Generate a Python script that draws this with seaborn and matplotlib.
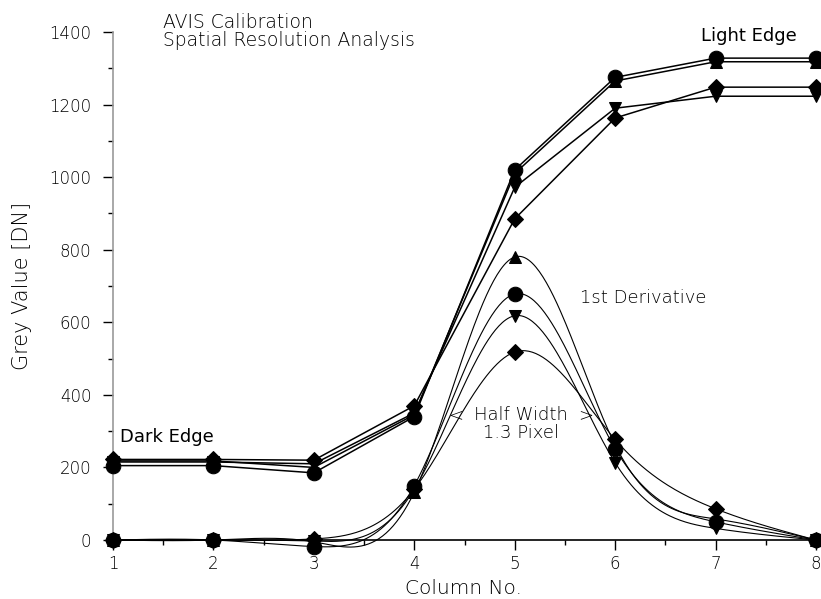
import numpy as np
import pandas as pd
import matplotlib
matplotlib.use("Agg")
import matplotlib.pyplot as plt
import seaborn as sns
from matplotlib.ticker import MultipleLocator

# ---- data ----
columns = [1, 2, 3, 4, 5, 6, 7, 8]
markers = ["o", "^", "v", "D"]

edge_circle = [205, 205, 185, 340, 1020, 1275, 1328, 1328]
edge_tri_up = [218, 218, 200, 345, 1010, 1265, 1318, 1318]
edge_tri_down = [215, 215, 210, 350, 972, 1190, 1223, 1223]
edge_diamond = [222, 222, 220, 370, 885, 1163, 1248, 1248]

deriv_circle = [0, 0, -18, 150, 678, 252, 50, 0]
deriv_tri_up = [0, 0, -5, 132, 780, 262, 58, 0]
deriv_tri_down = [0, 0, -3, 140, 618, 213, 32, 0]
deriv_diamond = [0, 0, 3, 140, 518, 277, 86, 0]

edges = [edge_circle, edge_tri_up, edge_tri_down, edge_diamond]
derivs = [deriv_circle, deriv_tri_up, deriv_tri_down, deriv_diamond]

y_ticks = [0, 200, 400, 600, 800, 1000, 1200, 1400]


def natural_spline(x, y, xs):
    x = np.asarray(x, float)
    y = np.asarray(y, float)
    n = len(x)
    h = np.diff(x)
    A = np.zeros((n, n))
    b = np.zeros(n)
    A[0, 0] = 1
    A[-1, -1] = 1
    for i in range(1, n - 1):
        A[i, i - 1] = h[i - 1]
        A[i, i] = 2 * (h[i - 1] + h[i])
        A[i, i + 1] = h[i]
        b[i] = 6 * ((y[i + 1] - y[i]) / h[i] - (y[i] - y[i - 1]) / h[i - 1])
    M = np.linalg.solve(A, b)
    out = np.empty_like(xs)
    for k, t in enumerate(xs):
        i = min(np.searchsorted(x, t, side="right") - 1, n - 2)
        i = max(i, 0)
        a = x[i + 1] - t
        c = t - x[i]
        out[k] = (M[i] * a ** 3 / (6 * h[i]) + M[i + 1] * c ** 3 / (6 * h[i])
                  + (y[i] / h[i] - M[i] * h[i] / 6) * a
                  + (y[i + 1] / h[i] - M[i + 1] * h[i] / 6) * c)
    return out


sns.set_theme(style="ticks")
plt.rcParams["font.family"] = ["DejaVu Sans"]

fig = plt.figure(figsize=(8.21, 5.99), dpi=100)
ax = fig.add_axes([113 / 821, 59 / 599, 703 / 821, 508 / 599])

msize = {"o": 10.5, "^": 9, "v": 9, "D": 8}

for ys, m in zip(edges, markers):
    sns.lineplot(x=columns, y=ys, ax=ax, color="black", linewidth=1.1,
                 marker=m, markersize=msize[m], markeredgecolor="black",
                 markerfacecolor="black", clip_on=False, zorder=3)

xs = np.linspace(1, 8, 400)
for ys, m in zip(derivs, markers):
    curve = natural_spline(columns, ys, xs)
    sns.lineplot(x=xs, y=curve, ax=ax, color="black", linewidth=0.8,
                 clip_on=False, zorder=2)
    sns.lineplot(x=columns, y=ys, ax=ax, color="black", linewidth=0,
                 marker=m, markersize=msize[m], markeredgecolor="black",
                 markerfacecolor="black", clip_on=False, zorder=3)

ax.set_xlim(1, 8)
ax.set_ylim(0, 1400)
ax.set_xticks(columns)
ax.set_yticks(y_ticks)
ax.xaxis.set_minor_locator(MultipleLocator(0.5))
ax.yaxis.set_minor_locator(MultipleLocator(100))
ax.tick_params(axis="both", which="major", length=7.5, width=1, color="black",
               labelsize=12, labelcolor="black")
ax.tick_params(axis="y", which="major", pad=8)
ax.tick_params(axis="x", which="major", pad=3)
ax.tick_params(axis="both", which="minor", length=3.6, width=1, color="black")
for lab in ax.get_xticklabels() + ax.get_yticklabels():
    lab.set_fontweight("light")
for s in ["top", "right"]:
    ax.spines[s].set_visible(False)
ax.spines["left"].set_color("#999999")
ax.spines["left"].set_linewidth(1.2)
ax.spines["bottom"].set_color("black")
ax.spines["bottom"].set_linewidth(1.2)

ax.set_xlabel("Column No.", fontsize=14.5, color="black", fontweight="light")
ax.set_ylabel("Grey Value [DN]", fontsize=15, color="black",
              fontweight="light")
ax.xaxis.set_label_coords(0.5, -29 / 508 - 0.01, transform=ax.transAxes)
ax.xaxis.label.set_va("center")
ax.xaxis.set_label_coords(350 / 703, -48 / 508)
ax.yaxis.set_label_coords(-91 / 703, 0.5)
ax.yaxis.label.set_va("center")

fig.text(163 / 821, 1 - 22 / 599, "AVIS Calibration", fontsize=13.5,
         va="center", ha="left", color="black", fontweight="light")
fig.text(163 / 821, 1 - 41 / 599, "Spatial Resolution Analysis",
         fontsize=13.5, va="center", ha="left", color="black",
         fontweight="light")

ax.text(1.07, 283, "Dark Edge", fontsize=13, va="center", ha="left",
        color="black")
ax.text(6.85, 1389, "Light Edge", fontsize=13, va="center", ha="left",
        color="black", clip_on=False)
ax.text(5.65, 667, "1st Derivative", fontsize=13, va="center", ha="left",
        color="black", fontweight="light")
ax.text(5.06, 344, "Half Width", fontsize=13, va="center", ha="center",
        color="black", fontweight="light")
ax.text(5.06, 295, "1.3 Pixel", fontsize=13, va="center", ha="center",
        color="black", fontweight="light")
ax.text(4.41, 344, "<", fontsize=13, va="center", ha="center", color="black",
        fontweight="light")
ax.text(5.71, 344, ">", fontsize=13, va="center", ha="center", color="black",
        fontweight="light")

fig.savefig("out.png", dpi=100)
